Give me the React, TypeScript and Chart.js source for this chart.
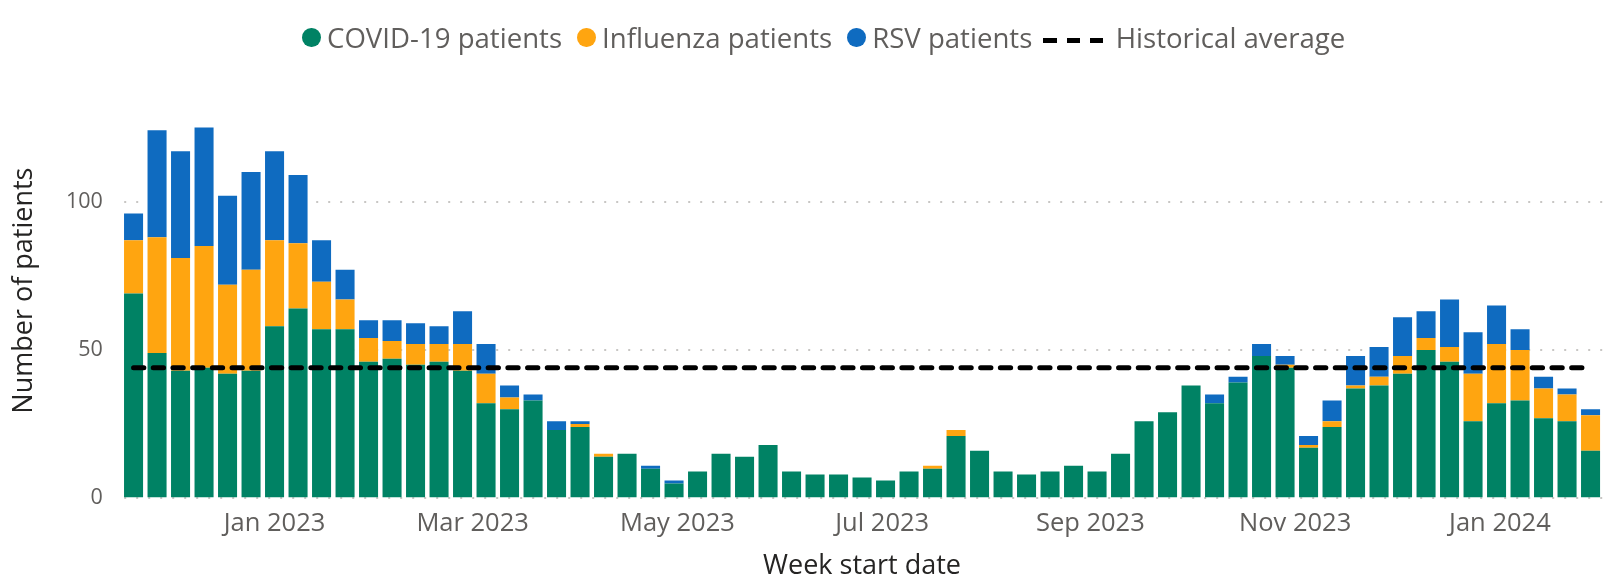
import React, { useEffect, useRef } from "react";
import { Chart, registerables } from "chart.js";

Chart.register(...registerables);

// ---------- data ----------
const weekStarts = [
  "2022-11-20", "2022-11-27", "2022-12-04", "2022-12-11", "2022-12-18", "2022-12-25",
  "2023-01-01", "2023-01-08", "2023-01-15", "2023-01-22", "2023-01-29",
  "2023-02-05", "2023-02-12", "2023-02-19", "2023-02-26",
  "2023-03-05", "2023-03-12", "2023-03-19", "2023-03-26",
  "2023-04-02", "2023-04-09", "2023-04-16", "2023-04-23", "2023-04-30",
  "2023-05-07", "2023-05-14", "2023-05-21", "2023-05-28",
  "2023-06-04", "2023-06-11", "2023-06-18", "2023-06-25",
  "2023-07-02", "2023-07-09", "2023-07-16", "2023-07-23", "2023-07-30",
  "2023-08-06", "2023-08-13", "2023-08-20", "2023-08-27",
  "2023-09-03", "2023-09-10", "2023-09-17", "2023-09-24",
  "2023-10-01", "2023-10-08", "2023-10-15", "2023-10-22", "2023-10-29",
  "2023-11-05", "2023-11-12", "2023-11-19", "2023-11-26",
  "2023-12-03", "2023-12-10", "2023-12-17", "2023-12-24", "2023-12-31",
  "2024-01-07", "2024-01-14", "2024-01-21", "2024-01-28",
];

const covidPatients = [
  69, 49, 43, 44, 42, 43, 58, 64, 57, 57,
  46, 47, 45, 46, 43, 32, 30, 33, 23, 24,
  14, 15, 10, 5, 9, 15, 14, 18, 9, 8,
  8, 7, 6, 9, 10, 21, 16, 9, 8, 9,
  11, 9, 15, 26, 29, 38, 32, 39, 48, 44,
  17, 24, 37, 38, 42, 50, 46, 26, 32, 33,
  27, 26, 16,
];

const influenzaPatients = [
  18, 39, 38, 41, 30, 34, 29, 22, 16, 10,
  8, 6, 7, 6, 9, 10, 4, 0, 0, 1,
  1, 0, 0, 0, 0, 0, 0, 0, 0, 0,
  0, 0, 0, 0, 1, 2, 0, 0, 0, 0,
  0, 0, 0, 0, 0, 0, 0, 0, 0, 1,
  1, 2, 1, 3, 6, 4, 5, 16, 20, 17,
  10, 9, 12,
];

const rsvPatients = [
  9, 36, 36, 40, 30, 33, 30, 23, 14, 10,
  6, 7, 7, 6, 11, 10, 4, 2, 3, 1,
  0, 0, 1, 1, 0, 0, 0, 0, 0, 0,
  0, 0, 0, 0, 0, 0, 0, 0, 0, 0,
  0, 0, 0, 0, 0, 0, 3, 2, 4, 3,
  3, 7, 10, 10, 13, 9, 16, 14, 13, 7,
  4, 2, 2,
];

const historicalAverage = 44;

const monthTickDates = [
  "2023-01-01", "2023-03-01", "2023-05-01", "2023-07-01",
  "2023-09-01", "2023-11-01", "2024-01-01",
];
const monthTickLabels = [
  "Jan 2023", "Mar 2023", "May 2023", "Jul 2023",
  "Sep 2023", "Nov 2023", "Jan 2024",
];
const yTickValues = [0, 50, 100];

const seriesNames = ["COVID-19 patients", "Influenza patients", "RSV patients", "Historical average"];
const seriesColors = ["#008264", "#FFA510", "#0F6BC0", "#000000"];

// ---------- helpers ----------
const FONT = "'Open Sans', 'Noto Sans', sans-serif";
const DAY_MS = 86400000;
const t0 = Date.parse(weekStarts[0]);
const dayOf = (d: string) => (Date.parse(d) - t0) / DAY_MS;
const weekX = weekStarts.map(dayOf);
const toPoints = (arr: number[]) => arr.map((v, i) => ({ x: weekX[i], y: v }));

export default function App() {
  const canvasRef = useRef<HTMLCanvasElement | null>(null);

  useEffect(() => {
    if (!canvasRef.current) return;
    const barCommon = {
      type: "bar" as const,
      stack: "patients",
      order: 1,
      categoryPercentage: 1,
      barPercentage: 0.81,
      borderWidth: 0,
    };
    const chart = new Chart(canvasRef.current, {
      type: "bar",
      data: {
        datasets: [
          { ...barCommon, label: seriesNames[0], data: toPoints(covidPatients), backgroundColor: seriesColors[0] },
          { ...barCommon, label: seriesNames[1], data: toPoints(influenzaPatients), backgroundColor: seriesColors[1] },
          { ...barCommon, label: seriesNames[2], data: toPoints(rsvPatients), backgroundColor: seriesColors[2] },
          {
            type: "line",
            label: seriesNames[3],
            data: weekX.map((x) => ({ x, y: historicalAverage })),
            borderColor: seriesColors[3],
            borderWidth: 5,
            borderDash: [10.3, 9.4],
            borderCapStyle: "round",
            pointRadius: 0,
            fill: false,
            stack: "average",
            order: 0,
          } as any,
        ],
      },
      options: {
        animation: false,
        responsive: false,
        events: [],
        layout: { padding: { top: 82.9, right: 2.7, left: 0, bottom: 0 } },
        plugins: {
          legend: { display: false },
          tooltip: { enabled: false },
        },
        scales: {
          x: {
            type: "linear",
            offset: false,
            min: -3.5,
            max: weekX[weekX.length - 1] + 3.5,
            stacked: true,
            grid: { display: false, drawTicks: false },
            border: { display: false },
            afterBuildTicks: (s: any) => {
              s.ticks = monthTickDates.map((d) => ({ value: dayOf(d) }));
            },
            afterFit: (s: any) => {
              s.height = 81.7;
            },
            ticks: {
              autoSkip: false,
              maxRotation: 0,
              minRotation: 0,
              padding: 10.4,
              color: "#605E5C",
              font: { family: FONT, size: 25.5 },
              callback: (_v: any, i: number) => monthTickLabels[i],
            },
            title: {
              display: true,
              text: "Week start date",
              color: "#252423",
              font: { family: FONT, size: 27, lineHeight: 1 },
              padding: { top: 0, bottom: 0 },
            },
          },
          y: {
            type: "linear",
            stacked: true,
            min: 0,
            max: 140,
            afterBuildTicks: (s: any) => {
              s.ticks = yTickValues.map((v) => ({ value: v }));
            },
            afterFit: (s: any) => {
              s.width = 121.8;
            },
            grid: {
              color: "#C8C6C4",
              lineWidth: 2,
              drawTicks: false,
              borderDash: [2, 10],
              borderDashOffset: 9.8,
            } as any,
            border: { display: false, dash: [2, 10], dashOffset: 9.8 } as any,
            ticks: {
              padding: 19,
              color: "#605E5C",
              font: { family: FONT, size: 21.5 },
            },
            title: {
              display: true,
              text: "Number of patients",
              color: "#252423",
              font: { family: FONT, size: 27, lineHeight: 1 },
              padding: { top: 10.5, bottom: 0 },
            },
          },
        },
      } as any,
    });
    return () => chart.destroy();
  }, []);

  const legendItem = (i: number) => {
    const isLine = i === 3;
    return (
      <div key={i} style={{ display: "flex", alignItems: "center", marginRight: isLine ? 0 : 15 }}>
        {isLine ? (
          <div style={{ display: "flex", alignItems: "center", marginRight: 12.5, marginLeft: -4, position: "relative", top: 3 }}>
            {[0, 1, 2].map((k) => (
              <span
                key={k}
                style={{
                  display: "inline-block",
                  width: 13.3,
                  height: 5,
                  background: seriesColors[3],
                  marginLeft: k === 0 ? 0 : 10,
                }}
              />
            ))}
          </div>
        ) : (
          <span
            style={{
              display: "inline-block",
              width: 18.5,
              height: 19,
              borderRadius: "50%",
              background: seriesColors[i],
              marginRight: 6.5,
            }}
          />
        )}
        <span>{seriesNames[i]}</span>
      </div>
    );
  };

  return (
    <div style={{ position: "absolute", left: 0, top: 0, width: 1605, height: 580, background: "#fff" }}>
      <canvas ref={canvasRef} width={1605} height={580} style={{ display: "block" }} />
      <div
        style={{
          position: "absolute",
          left: 302,
          top: 17.5,
          height: 40,
          display: "flex",
          alignItems: "center",
          fontFamily: FONT,
          fontSize: 27.6,
          lineHeight: 1,
          color: "#605E5C",
          whiteSpace: "nowrap",
        }}
      >
        {seriesNames.map((_, i) => legendItem(i))}
      </div>
    </div>
  );
}
